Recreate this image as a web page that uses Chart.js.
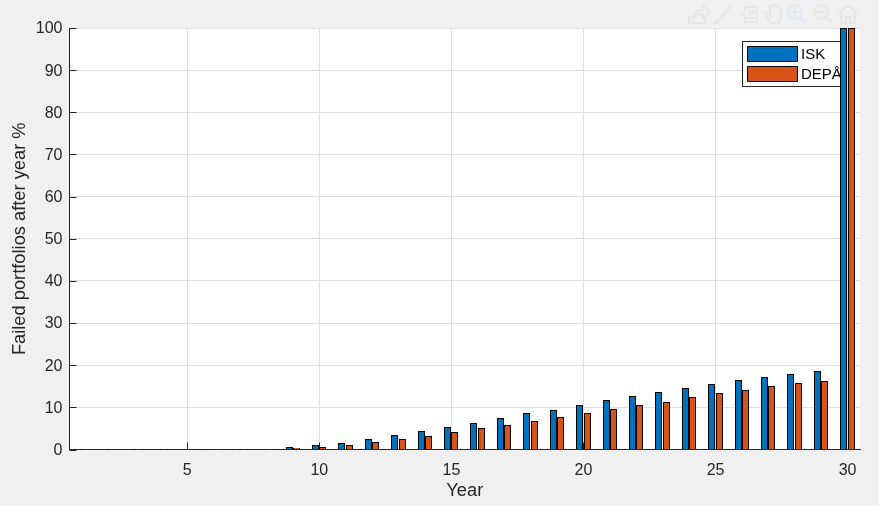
<!DOCTYPE html>
<html><head><meta charset="utf-8">
<style>
html,body{margin:0;padding:0;background:#f0f0f0;overflow:hidden}
#wrap{position:relative;width:879px;height:506px}
canvas{display:block}
#tools{position:absolute;left:0;top:0}
</style>
<script src="https://cdn.jsdelivr.net/npm/chart.js@4"></script>
</head><body>
<div id="wrap">
<canvas id="c" width="879" height="506"></canvas>
<svg id="tools" width="879" height="28" fill="none" stroke="#e6e6e6" stroke-width="2">
<path d="M689 15v8h16v-5M693 18c1-6 5-8 10-8V6l7 6-7 6v-4c-4 0-7 1-10 4z"/>
<path d="M714 24c0-3 2-5 4-5l2 2c0 2-3 3-6 3zM719 18l11-12 1 1-10 13z" fill="#e6e6e6" stroke-width="1"/>
<path d="M745 7h12v15h-12v-5l-4-3 4-3zM748 11h7M748 14h7M748 18h7"/>
<path d="M771 23l-6-8c-1-2 1-3 2-2l3 3V7c0-2 2-2 2 0V6c0-2 3-2 3 0v1c0-2 3-2 3 0v2c0-2 3-2 3 0v8l-2 6z"/>
<g stroke="#dfeaf3"><circle cx="795" cy="12" r="7"/><path d="M800 17l6 6M791 12h8M795 8v8"/></g>
<circle cx="821" cy="12" r="7"/><path d="M826 17l6 6M817 12h8"/>
<path d="M838 14l10-9 10 9M841 12v11h5v-6h4v6h5V12"/>
</svg>
</div>
<script>
const years = [1,2,3,4,5,6,7,8,9,10,11,12,13,14,15,16,17,18,19,20,21,22,23,24,25,26,27,28,29,30];
const isk  = [0,0,0,0,0,0,0,0.05,0.5,0.95,1.4,2.4,3.3,4.3,5.2,6.2,7.35,8.55,9.25,10.4,11.6,12.6,13.5,14.5,15.4,16.4,17.1,17.8,18.5,100];
const depa = [0,0,0,0,0,0,0,0,0.2,0.5,0.95,1.65,2.4,3.1,4.0,5.0,5.7,6.65,7.6,8.55,9.5,10.4,11.15,12.3,13.3,14.0,14.95,15.65,16.15,100];
const xTicks = [5,10,15,20,25,30];
const yTicks = [0,10,20,30,40,50,60,70,80,90,100];
const seriesNames = ['ISK','DEPÅ'];
const xTitle = 'Year';
const yTitle = 'Failed portfolios after year %';

const INK = '#262626', GRID = '#dfdfdf', FONT = '"Liberation Sans", Arial, sans-serif';

const frame = {
  id: 'frame',
  beforeInit(chart) {
    const l = chart.legend, fit = l.fit, draw = l.draw;
    l.fit = function () { fit.call(this); this.width = 0; };
    l.draw = function () {
      const ctx = this.ctx;
      this.left = 742.5; this.right = 846.5; this.top = 41.5; this.bottom = 86.5;
      this.width = 104; this.height = 45;
      ctx.save();
      ctx.fillStyle = '#fff'; ctx.strokeStyle = INK; ctx.lineWidth = 1;
      ctx.fillRect(742.5, 41.5, 104, 45); ctx.strokeRect(742.5, 41.5, 104, 45);
      ctx.restore();
      const ft = ctx.fillText;
      ctx.fillText = function (s, x, y, m) { return ft.call(this, s, x - 4, y + 1, m); };
      draw.call(this);
      delete ctx.fillText;
    };
  },
  beforeDraw(chart) {
    const a = chart.chartArea, ctx = chart.ctx;
    ctx.save(); ctx.fillStyle = '#fff';
    ctx.fillRect(a.left, a.top, a.right - a.left, a.bottom - a.top);
    ctx.restore();
    const ys = chart.scales.y;
    if (!ys._nudged) {
      ys._nudged = true;
      const dl = ys.drawLabels;
      ys.drawLabels = function (area) { ctx.save(); ctx.translate(0, 1); dl.call(this, area); ctx.restore(); };
    }
  },
  beforeDatasetsDraw(chart) {
    const a = chart.chartArea, ctx = chart.ctx, xs = chart.scales.x, ys = chart.scales.y;
    ctx.save(); ctx.strokeStyle = INK; ctx.lineWidth = 1; ctx.beginPath();
    xTicks.forEach(v => { const p = Math.round(xs.getPixelForValue(v)) + 0.5; ctx.moveTo(p, a.bottom); ctx.lineTo(p, a.bottom - 7); });
    yTicks.forEach(v => { const p = Math.round(ys.getPixelForValue(v)) + 0.5; ctx.moveTo(a.left, p); ctx.lineTo(a.left + 7, p); });
    ctx.stroke(); ctx.restore();
    // keep bar edges on whole pixels so their outlines stay crisp
    chart.data.datasets.forEach((d, i) => {
      chart.getDatasetMeta(i).data.forEach(el => {
        const left = Math.round(el.x - el.width / 2 - (i === 0 ? 0.3 : 0.15));
        el.width = 7; el.x = left + 3.5;
        el.y = Math.floor(el.y); el.base = Math.ceil(el.base);
      });
    });
  }
};

new Chart(document.getElementById('c'), {
  type: 'bar',
  plugins: [frame],
  data: {
    labels: years,
    datasets: [
      { label: seriesNames[0], data: isk, backgroundColor: '#0072BD', borderColor: '#000', borderWidth: 1 },
      { label: seriesNames[1], data: depa, backgroundColor: '#D95319', borderColor: '#000', borderWidth: 1 }
    ]
  },
  options: {
    responsive: false,
    animation: false,
    devicePixelRatio: 1,
    categoryPercentage: 0.55,
    barPercentage: 0.95,
    layout: { padding: { left: 0, top: 28, right: 19, bottom: 0 } },
    plugins: {
      tooltip: { enabled: false },
      legend: {
        position: 'right', z: 10, align: 'start',
        labels: {
          boxWidth: 50, boxHeight: 15, padding: 5, color: '#000',
          font: { family: FONT, size: 15 }
        }
      }
    },
    scales: {
      x: {
        type: 'linear', min: 0.54, max: 30.47, offset: false,
        afterBuildTicks: s => { s.ticks = xTicks.map(v => ({ value: v })); },
        afterFit: s => { s.height = 56.5; },
        grid: { color: GRID, drawTicks: false, lineWidth: 1, offset: false },
        border: { color: INK, width: 1 },
        ticks: { color: INK, padding: 11, maxRotation: 0, font: { family: FONT, size: 16 } },
        title: { display: true, text: xTitle, color: INK, padding: { top: 5, bottom: 4 }, font: { family: FONT, size: 18.3 } }
      },
      y: {
        type: 'linear', min: 0, max: 100,
        afterBuildTicks: s => { s.ticks = yTicks.map(v => ({ value: v })); },
        afterFit: s => { s.width = 69.5; },
        grid: { color: GRID, drawTicks: false, lineWidth: 1 },
        border: { color: INK, width: 1 },
        ticks: { color: INK, padding: 7, font: { family: FONT, size: 16 } },
        title: { display: true, text: yTitle, color: INK, padding: { top: 9, bottom: 4 }, font: { family: FONT, size: 18.3 } }
      }
    }
  }
});
</script>
</body></html>
